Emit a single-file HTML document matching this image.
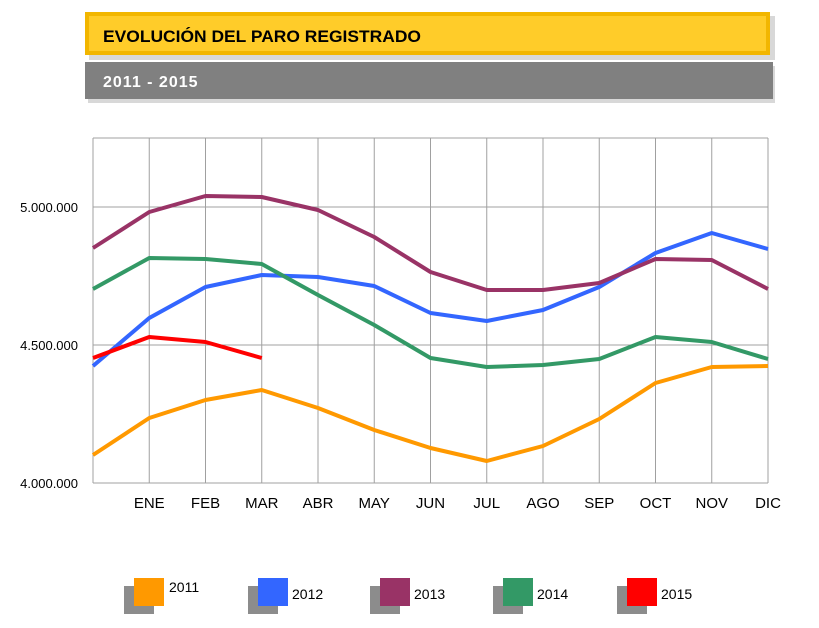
<!DOCTYPE html>
<html><head><meta charset="utf-8"><style>
body{margin:0;background:#fff;width:819px;height:623px;overflow:hidden;font-family:"Liberation Sans",sans-serif}
</style></head><body>
<svg width="819" height="623" xmlns="http://www.w3.org/2000/svg" font-family="Liberation Sans, sans-serif">
<rect x="89" y="16" width="686" height="44" fill="#d8d8d8"/>
<rect x="85" y="12" width="685" height="43" fill="#f2b600"/>
<rect x="89" y="16" width="677" height="35" fill="#ffcc29"/>
<text x="103" y="42" font-size="17" font-weight="bold" fill="#000" textLength="318" lengthAdjust="spacingAndGlyphs">EVOLUCIÓN DEL PARO REGISTRADO</text>
<rect x="88" y="66" width="687" height="37" fill="#d8d8d8"/>
<rect x="85" y="62" width="688" height="37" fill="#808080"/>
<text x="103" y="87" font-size="16" font-weight="bold" fill="#fff" letter-spacing="1">2011 - 2015</text>
<g stroke="#a0a0a0" stroke-width="1" fill="none" id="grid"></g>
<g id="lines" fill="none" stroke-width="4" stroke-linejoin="round" stroke-linecap="butt"></g>
<g font-size="13" fill="#000" text-anchor="end">
<text x="78" y="212">5.000.000</text>
<text x="78" y="350">4.500.000</text>
<text x="78" y="488">4.000.000</text>
</g>
<g font-size="15" fill="#000" text-anchor="middle" id="months"></g>
<g font-size="14" fill="#000">
<rect x="124" y="586" width="30" height="28" fill="#8c8c8c"/><rect x="134" y="578" width="30" height="28" fill="#ff9900"/><text x="169" y="592">2011</text>
<rect x="248" y="586" width="30" height="28" fill="#8c8c8c"/><rect x="258" y="578" width="30" height="28" fill="#3366ff"/><text x="292" y="599">2012</text>
<rect x="370" y="586" width="30" height="28" fill="#8c8c8c"/><rect x="380" y="578" width="30" height="28" fill="#993366"/><text x="414" y="599">2013</text>
<rect x="493" y="586" width="30" height="28" fill="#8c8c8c"/><rect x="503" y="578" width="30" height="28" fill="#339966"/><text x="537" y="599">2014</text>
<rect x="617" y="586" width="30" height="28" fill="#8c8c8c"/><rect x="627" y="578" width="30" height="28" fill="#ff0000"/><text x="661" y="599">2015</text>
</g>
</svg>
<script>
var ns="http://www.w3.org/2000/svg";
var g=document.getElementById("grid"),L=document.getElementById("lines"),M=document.getElementById("months");
function el(p,t,a){var e=document.createElementNS(ns,t);for(var k in a)e.setAttribute(k,a[k]);p.appendChild(e);return e;}
var X=function(i){return 93+i*56.25;};
for(var i=0;i<=12;i++)el(g,"line",{x1:X(i),y1:138,x2:X(i),y2:483});
[138,207,345,483].forEach(function(y){el(g,"line",{x1:93,y1:y,x2:768,y2:y});});
var mn=["ENE","FEB","MAR","ABR","MAY","JUN","JUL","AGO","SEP","OCT","NOV","DIC"];
mn.forEach(function(m,i){el(M,"text",{x:X(i+1),y:508}).textContent=m;});
var S=[["#ff9900",[455,418,400,390,408,430,448,461,446,419,383,367,366]],
["#3366ff",[366,318,287,275,277,286,313,321,310,287,253,233,249]],
["#993366",[248,212,196,197,210,237,272,290,290,283,259,260,289]],
["#339966",[289,258,259,264,295,325,358,367,365,359,337,342,359]],
["#ff0000",[358,337,342,358]]];
S.forEach(function(s){var y=s[1],pts=y.map(function(v,i){return X(i)+","+v;}).join(" ");
el(L,"polyline",{points:pts,stroke:s[0]});});
</script>
</body></html>
